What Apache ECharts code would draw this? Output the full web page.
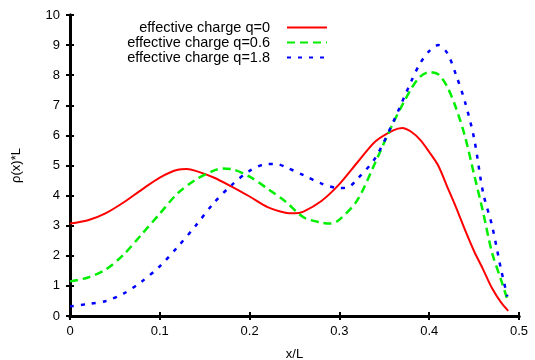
<!DOCTYPE html>
<html>
<head>
<meta charset="utf-8">
<script src="https://cdn.jsdelivr.net/npm/echarts@6/dist/echarts.min.js"></script>
<style>
  html, body { margin: 0; padding: 0; background: #fff; }
  #main { width: 535px; height: 360px; }
</style>
</head>
<body>
<div id="main"></div>
<script>
const xTicks = [0, 0.1, 0.2, 0.3, 0.4, 0.5];
const yTicks = [0, 1, 2, 3, 4, 5, 6, 7, 8, 9, 10];

// q=0
const xQ0 = [0, 0.02, 0.04, 0.06, 0.08, 0.10, 0.12, 0.13, 0.14, 0.16, 0.18, 0.20, 0.22, 0.24, 0.25, 0.26, 0.28, 0.30, 0.32, 0.34, 0.36, 0.37, 0.38, 0.39, 0.40, 0.41, 0.42, 0.43, 0.44, 0.45, 0.46, 0.47, 0.48, 0.488];
const yQ0 = [3.07, 3.18, 3.42, 3.78, 4.2, 4.6, 4.86, 4.88, 4.82, 4.6, 4.3, 3.97, 3.62, 3.43, 3.41, 3.47, 3.82, 4.38, 5.1, 5.8, 6.17, 6.25, 6.12, 5.85, 5.45, 5.0, 4.3, 3.6, 2.85, 2.15, 1.55, 0.92, 0.45, 0.17];

// q=0.6
const xQ06 = [0, 0.02, 0.04, 0.06, 0.08, 0.10, 0.12, 0.14, 0.16, 0.17, 0.18, 0.20, 0.22, 0.24, 0.26, 0.28, 0.29, 0.30, 0.32, 0.34, 0.36, 0.38, 0.39, 0.40, 0.41, 0.42, 0.43, 0.44, 0.45, 0.46, 0.47, 0.48, 0.487];
const yQ06 = [1.15, 1.28, 1.55, 2.05, 2.72, 3.4, 4.08, 4.53, 4.83, 4.9, 4.88, 4.63, 4.23, 3.8, 3.28, 3.1, 3.07, 3.2, 3.85, 5.1, 6.42, 7.55, 7.95, 8.1, 8.03, 7.62, 6.9, 5.95, 4.7, 3.45, 2.1, 1.2, 0.55];

// q=1.8
const xQ18 = [0, 0.02, 0.04, 0.06, 0.08, 0.10, 0.12, 0.14, 0.16, 0.18, 0.20, 0.22, 0.23, 0.24, 0.26, 0.28, 0.30, 0.31, 0.32, 0.34, 0.36, 0.38, 0.39, 0.40, 0.41, 0.42, 0.43, 0.44, 0.45, 0.46, 0.47, 0.48, 0.487];
const yQ18 = [0.32, 0.4, 0.5, 0.75, 1.15, 1.65, 2.3, 3.0, 3.75, 4.35, 4.82, 5.05, 5.05, 4.95, 4.68, 4.4, 4.25, 4.28, 4.55, 5.25, 6.45, 7.8, 8.4, 8.8, 9.0, 8.74, 8.0, 7.1, 5.9, 4.1, 3.0, 1.55, 0.65];

const names = ["effective charge q=0", "effective charge q=0.6", "effective charge q=1.8"];

const pairs = (xs, ys) => xs.map((x, i) => [x, ys[i]]);

const font = "Liberation Sans";
const frame = { show: true, lineStyle: { color: "#000", width: 3 } };
const ticks = { show: true, inside: true, length: 4, lineStyle: { color: "#000", width: 2 } };

const chart = echarts.init(document.getElementById("main"));

chart.setOption({
  animation: false,
  grid: { left: 70, right: 16, top: 15, bottom: 44, outerBoundsMode: "none" },
  legend: {
    orient: "vertical",
    align: "right",
    right: 202,
    top: 15,
    itemWidth: 40,
    itemHeight: 10,
    itemGap: 0,
    data: names,
    itemStyle: { opacity: 0 },
    textStyle: { fontFamily: font, fontSize: 14.5, color: "#000", lineHeight: 15, padding: [0, 12, 0, 0] },
  },
  xAxis: [
    {
      type: "value",
      min: 0,
      max: 0.5,
      interval: 0.1,
      name: "x/L",
      nameLocation: "middle",
      nameGap: 32,
      nameTextStyle: { fontFamily: font, fontSize: 13, color: "#000" },
      axisLine: frame,
      axisTick: ticks,
      splitLine: { show: false },
      axisLabel: {
        fontFamily: font, fontSize: 13, color: "#000", margin: 9,
        formatter: (v) => (xTicks.includes(+v.toFixed(1)) ? String(+v.toFixed(1)) : ""),
      },
    },
    {
      type: "value",
      position: "top",
      min: 0,
      max: 0.5,
      interval: 0.1,
      axisLine: frame,
      axisTick: ticks,
      splitLine: { show: false },
      axisLabel: { show: false },
    },
  ],
  yAxis: [
    {
      type: "value",
      min: 0,
      max: 10,
      interval: 1,
      name: "ρ(x)*L",
      nameLocation: "middle",
      nameGap: 47,
      nameRotate: 90,
      nameTextStyle: { fontFamily: font, fontSize: 13, color: "#000" },
      axisLine: frame,
      axisTick: ticks,
      splitLine: { show: false },
      axisLabel: {
        fontFamily: font, fontSize: 13, color: "#000", margin: 10,
        formatter: (v) => (yTicks.includes(v) ? String(v) : ""),
      },
    },
    {
      type: "value",
      position: "right",
      min: 0,
      max: 10,
      interval: 1,
      axisLine: frame,
      axisTick: ticks,
      splitLine: { show: false },
      axisLabel: { show: false },
    },
  ],
  series: [
    {
      name: names[0],
      type: "line",
      smooth: 0.3,
      symbol: "none",
      lineStyle: { color: "#ff0000", width: 2, type: "solid" },
      itemStyle: { color: "#ff0000" },
      data: pairs(xQ0, yQ0),
    },
    {
      name: names[1],
      type: "line",
      smooth: 0.3,
      symbol: "none",
      lineStyle: { color: "#00ee00", width: 2.5, type: [8, 5] },
      itemStyle: { color: "#00ee00" },
      data: pairs(xQ06, yQ06),
    },
    {
      name: names[2],
      type: "line",
      smooth: 0.3,
      symbol: "none",
      lineStyle: { color: "#0000ff", width: 2.5, type: [4, 7] },
      itemStyle: { color: "#0000ff" },
      data: pairs(xQ18, yQ18),
    },
  ],
});
</script>
</body>
</html>
